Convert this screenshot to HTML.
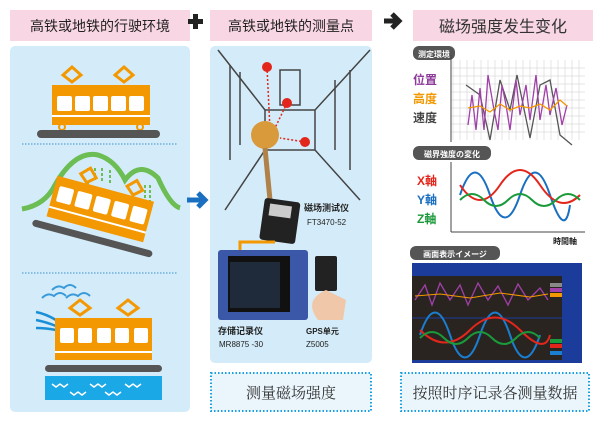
<!DOCTYPE html>
<html><head><meta charset="utf-8"><style>
body{margin:0;width:600px;height:423px;background:#fff;overflow:hidden;font-family:"Liberation Sans","Noto Sans CJK SC",sans-serif}
</style></head><body>
<svg width="600" height="423" viewBox="0 0 600 423" xmlns="http://www.w3.org/2000/svg" font-family="Liberation Sans, Noto Sans CJK SC, sans-serif">
<!-- headers -->
<rect x="10" y="10" width="180" height="31" fill="#f8d6e3"/>
<text x="100" y="31" font-size="14" text-anchor="middle" fill="#222">高铁或地铁的行驶环境</text>
<rect x="188" y="19" width="15" height="5" fill="#222"/><rect x="193" y="14" width="5" height="15" fill="#222"/>
<rect x="210" y="10" width="162" height="31" fill="#f8d6e3"/>
<text x="291" y="31" font-size="14" text-anchor="middle" fill="#222">高铁或地铁的测量点</text>
<path d="M384 21 L398 21 M392 14 L399 21 L392 28" stroke="#222" stroke-width="5" fill="none"/>
<rect x="413" y="10" width="180" height="31" fill="#f8d6e3"/>
<text x="503" y="32" font-size="16" text-anchor="middle" fill="#333">磁场强度发生变化</text>
<!-- left panel -->
<rect x="10" y="46" width="180" height="366" rx="5" fill="#d4ecf9"/>
<line x1="22" y1="144" x2="177" y2="144" stroke="#3a8fd0" stroke-width="1" stroke-dasharray="1.5 1.5"/>
<line x1="22" y1="273" x2="177" y2="273" stroke="#3a8fd0" stroke-width="1" stroke-dasharray="1.5 1.5"/>
<!-- train 1 -->
<g>
<path d="M63 75 L72 67 L81 75 L72 82Z M115 75 L124 67 L133 75 L124 82Z" stroke="#f39800" stroke-width="3" fill="none"/>
<rect x="52" y="85" width="98" height="40" fill="#f39800"/>
<g fill="#fff"><rect x="57" y="96" width="15" height="15" rx="2"/><rect x="75" y="96" width="15" height="15" rx="2"/><rect x="93" y="96" width="15" height="15" rx="2"/><rect x="111" y="96" width="15" height="15" rx="2"/><rect x="129" y="96" width="15" height="15" rx="2"/></g>
<rect x="52" y="115" width="98" height="2" fill="#fff"/>
<circle cx="62" cy="127" r="3" fill="none" stroke="#f39800" stroke-width="2"/><circle cx="140" cy="127" r="3" fill="none" stroke="#f39800" stroke-width="2"/>
<rect x="37" y="130" width="123" height="8" rx="4" fill="#555"/>
</g>
<!-- train 2 -->
<path d="M22 209 Q45 205 55 185 Q75 150 98 155 Q115 160 125 180 Q140 160 158 178 Q170 205 180 208" stroke="#6bbd54" stroke-width="5" fill="none"/>
<g stroke="#6bbd54" stroke-width="2" stroke-dasharray="3 2"><path d="M88 168 V185 M95 168 V180 M102 168 V182 M110 170 V184 M60 185 V200 M145 185 V200 M150 185 V202"/></g>
<g transform="rotate(15 100 210)">
<path d="M72 180 L80 172 L88 180 L80 187Z M120 180 L128 172 L136 180 L128 187Z" stroke="#f39800" stroke-width="3" fill="#d4ecf9"/>
<rect x="50" y="188" width="100" height="42" fill="#f39800"/>
<g fill="#fff"><rect x="55" y="197" width="15" height="16" rx="2"/><rect x="74" y="197" width="15" height="16" rx="2"/><rect x="93" y="197" width="15" height="16" rx="2"/><rect x="112" y="197" width="15" height="16" rx="2"/><rect x="131" y="197" width="15" height="16" rx="2"/></g>
<rect x="50" y="219" width="100" height="2" fill="#fff"/>
<rect x="38" y="236" width="124" height="7" rx="3.5" fill="#555"/>
</g>
<!-- train 3 -->
<path d="M52 290 q6 -6 12 -2 q6 -6 12 0 M42 298 q6 -6 12 -2 q6 -6 12 0 M66 298 q6 -6 12 -2 q6 -6 12 0" stroke="#3a9ad9" stroke-width="2" fill="none"/>
<path d="M36 312 q10 2 20 8 M36 320 q10 2 20 6 M36 328 q10 0 20 2" stroke="#1a8fd8" stroke-width="2.5" fill="none"/>
<path d="M70 308 L80 300 L90 308 L80 315Z M118 308 L128 300 L138 308 L128 315Z" stroke="#f39800" stroke-width="3" fill="none"/>
<rect x="55" y="318" width="97" height="42" fill="#f39800"/>
<g fill="#fff"><rect x="60" y="328" width="14" height="15" rx="2"/><rect x="78" y="328" width="14" height="15" rx="2"/><rect x="97" y="328" width="14" height="15" rx="2"/><rect x="115" y="328" width="14" height="15" rx="2"/><rect x="134" y="328" width="14" height="15" rx="2"/></g>
<rect x="55" y="351" width="97" height="2" fill="#fff"/>
<rect x="45" y="365" width="117" height="7" rx="3.5" fill="#555"/>
<rect x="45" y="376" width="117" height="24" fill="#1aa8e6"/>
<path d="M52 384 l4 3 l4 -3 l4 3 l4 -3 M90 384 l4 3 l4 -3 l4 3 l4 -3 M125 384 l4 3 l4 -3 l4 3 l4 -3 M70 392 l4 3 l4 -3 l4 3 l4 -3 M105 392 l4 3 l4 -3 l4 3 l4 -3" stroke="#fff" stroke-width="1.5" fill="none"/>
<!-- blue arrow -->
<path d="M187 200 L204 200 M198 193 L205 200 L198 207" stroke="#1a6fc0" stroke-width="5" fill="none"/>
<!-- middle panel -->
<rect x="210" y="46" width="162" height="317" rx="5" fill="#d4ecf9"/>
<g stroke="#444" stroke-width="1.5" fill="none">
<path d="M218 50 L265 110 L265 150 L225 210 M370 50 L315 110 L315 150 L360 200 M265 110 L315 110 M265 150 L315 150"/>
<path d="M230 65 L230 160 M240 72 L240 145 M335 80 L335 150 M350 70 L350 170 M280 70 L300 70 L300 105 L280 105Z"/>
</g>
<g fill="#e3261b"><circle cx="267" cy="67" r="5"/><circle cx="287" cy="103" r="5"/><circle cx="305" cy="142" r="5"/></g>
<path d="M267 67 L270 130 M287 103 L275 128 M305 142 L280 138" stroke="#e3261b" stroke-dasharray="2 2" stroke-width="1.5"/>
<circle cx="265" cy="135" r="14" fill="#d99a3c"/>
<path d="M265 148 L270 200" stroke="#b0824a" stroke-width="5"/>
<rect x="262" y="200" width="36" height="42" rx="3" fill="#222" transform="rotate(8 280 220)"/>
<rect x="268" y="205" width="22" height="12" fill="#ccc" transform="rotate(8 280 220)"/>
<text x="304" y="211" font-size="9" fill="#222" font-weight="bold">磁场测试仪</text>
<text x="307" y="225" font-size="8" fill="#222">FT3470-52</text>
<path d="M240 250 L240 242 L275 242" stroke="#f39800" stroke-width="3" fill="none"/>
<rect x="218" y="250" width="90" height="70" rx="3" fill="#3b57a8"/>
<rect x="228" y="256" width="62" height="56" fill="#111"/>
<rect x="230" y="262" width="50" height="46" fill="#1f2a3a"/>
<rect x="315" y="256" width="22" height="35" rx="2" fill="#222"/>
<path d="M318 320 q-15 -20 8 -30 l20 10 l-3 20z" fill="#f0c7a8"/>
<text x="218" y="334" font-size="9" font-weight="bold" fill="#222">存储记录仪</text>
<text x="219" y="347" font-size="8" fill="#222">MR8875 -30</text>
<text x="306" y="334" font-size="8" font-weight="bold" fill="#222">GPS单元</text>
<text x="306" y="347" font-size="8" fill="#222">Z5005</text>
<!-- dotted boxes -->
<rect x="211" y="373" width="160" height="38" fill="#eaf6fc" stroke="#1aa0e0" stroke-width="2" stroke-dasharray="1.5 2"/>
<text x="291" y="398" font-size="15" text-anchor="middle" fill="#333" font-family="Liberation Serif, Noto Serif CJK SC, serif">测量磁场强度</text>
<rect x="401" y="373" width="188" height="38" fill="#eaf6fc" stroke="#1aa0e0" stroke-width="2" stroke-dasharray="1.5 2"/>
<text x="495" y="398" font-size="15" text-anchor="middle" fill="#333" font-family="Liberation Serif, Noto Serif CJK SC, serif">按照时序记录各测量数据</text>
<!-- right graphs -->
<rect x="413" y="46" width="42" height="14" rx="6" fill="#555"/>
<text x="434" y="57" font-size="8" fill="#fff" text-anchor="middle" font-weight="bold">测定環境</text>
<g stroke="#ccc" stroke-width="0.5">
<path d="M453 60 V140 M460 60V140 M467 60V140 M474 60V140 M481 60V140 M488 60V140 M495 60V140 M502 60V140 M509 60V140 M516 60V140 M523 60V140 M530 60V140 M537 60V140 M544 60V140 M551 60V140 M558 60V140 M565 60V140 M572 60V140 M579 60V140"/>
<path d="M451 68H585 M451 76H585 M451 84H585 M451 92H585 M451 100H585 M451 108H585 M451 116H585 M451 124H585 M451 132H585"/>
</g>
<line x1="451" y1="55" x2="451" y2="142" stroke="#444"/>
<text x="413" y="84" font-size="12" fill="#8e3a9a" font-weight="bold">位置</text>
<text x="413" y="103" font-size="12" fill="#f39800" font-weight="bold">高度</text>
<text x="413" y="122" font-size="12" fill="#444" font-weight="bold">速度</text>
<polyline points="466,85 480,95 490,140 500,80 510,110 517,75 530,138 540,85 550,80 560,135 572,145" fill="none" stroke="#555" stroke-width="1.3"/>
<polyline points="468,125 472,95 476,130 480,88 484,130 488,75 494,110 498,130 502,85 506,105 510,130 516,80 520,115 526,85 530,120 536,75 540,120 546,85 550,115 556,88 562,125 567,105" fill="none" stroke="#a040a8" stroke-width="1.3"/>
<polyline points="468,108 480,106 490,112 500,104 510,110 520,106 530,108 540,104 550,110 560,100 567,106" fill="none" stroke="#f39800" stroke-width="1.3"/>
<rect x="413" y="146" width="78" height="14" rx="6" fill="#555"/>
<text x="452" y="157" font-size="8" fill="#fff" text-anchor="middle" font-weight="bold">磁界強度の変化</text>
<line x1="451" y1="162" x2="451" y2="232" stroke="#444"/>
<line x1="451" y1="232" x2="585" y2="232" stroke="#444"/>
<text x="417" y="185" font-size="12" fill="#e3261b" font-weight="bold">X軸</text>
<text x="417" y="204" font-size="12" fill="#1a6fc0" font-weight="bold">Y軸</text>
<text x="417" y="223" font-size="12" fill="#1a9a3a" font-weight="bold">Z軸</text>
<path d="M460 195 q15 -45 30 0 t30 0 t30 0 t20 10" fill="none" stroke="#1a6fc0" stroke-width="2"/>
<path d="M460 185 q20 30 40 0 t40 0 t40 10" fill="none" stroke="#e3261b" stroke-width="2"/>
<path d="M460 200 q12 -12 24 0 t24 0 t24 0 t24 0 t24 0" fill="none" stroke="#1a9a3a" stroke-width="2"/>
<text x="553" y="244" font-size="8" fill="#222" font-weight="bold">時間軸</text>
<rect x="410" y="246" width="90" height="14" rx="6" fill="#555"/>
<text x="455" y="257" font-size="8" fill="#fff" text-anchor="middle" font-weight="bold">画面表示イメージ</text>
<rect x="412" y="263" width="170" height="100" fill="#1b3c9a"/>
<rect x="412" y="276" width="150" height="84" fill="#2a2420"/>
<line x1="412" y1="318" x2="562" y2="318" stroke="#1b3c9a" stroke-width="1"/>
<polyline points="415,300 425,285 432,305 440,283 450,300 460,285 468,305 478,283 488,300 498,286 508,305 518,284 528,300 540,288 548,300" fill="none" stroke="#a040a8" stroke-width="1.3"/>
<polyline points="415,296 440,294 470,298 500,293 530,297 548,294" fill="none" stroke="#f39800" stroke-width="1"/>
<path d="M420 335 q15 -45 30 0 t30 0 t30 0 t30 0" fill="none" stroke="#1a7fd0" stroke-width="2"/>
<path d="M420 330 q25 25 50 0 t50 0 t30 5" fill="none" stroke="#e3261b" stroke-width="2"/>
<path d="M420 338 q12 -12 24 0 t24 0 t24 0 t24 0 t24 0" fill="none" stroke="#1a9a3a" stroke-width="2"/>
<rect x="550" y="283" width="12" height="4" fill="#888"/><rect x="550" y="288" width="12" height="4" fill="#a040a8"/><rect x="550" y="293" width="12" height="4" fill="#f39800"/>
<rect x="550" y="339" width="12" height="4" fill="#1a9a3a"/><rect x="550" y="344" width="12" height="4" fill="#e3261b"/><rect x="550" y="351" width="12" height="4" fill="#1a7fd0"/>
</svg>
</body></html>
